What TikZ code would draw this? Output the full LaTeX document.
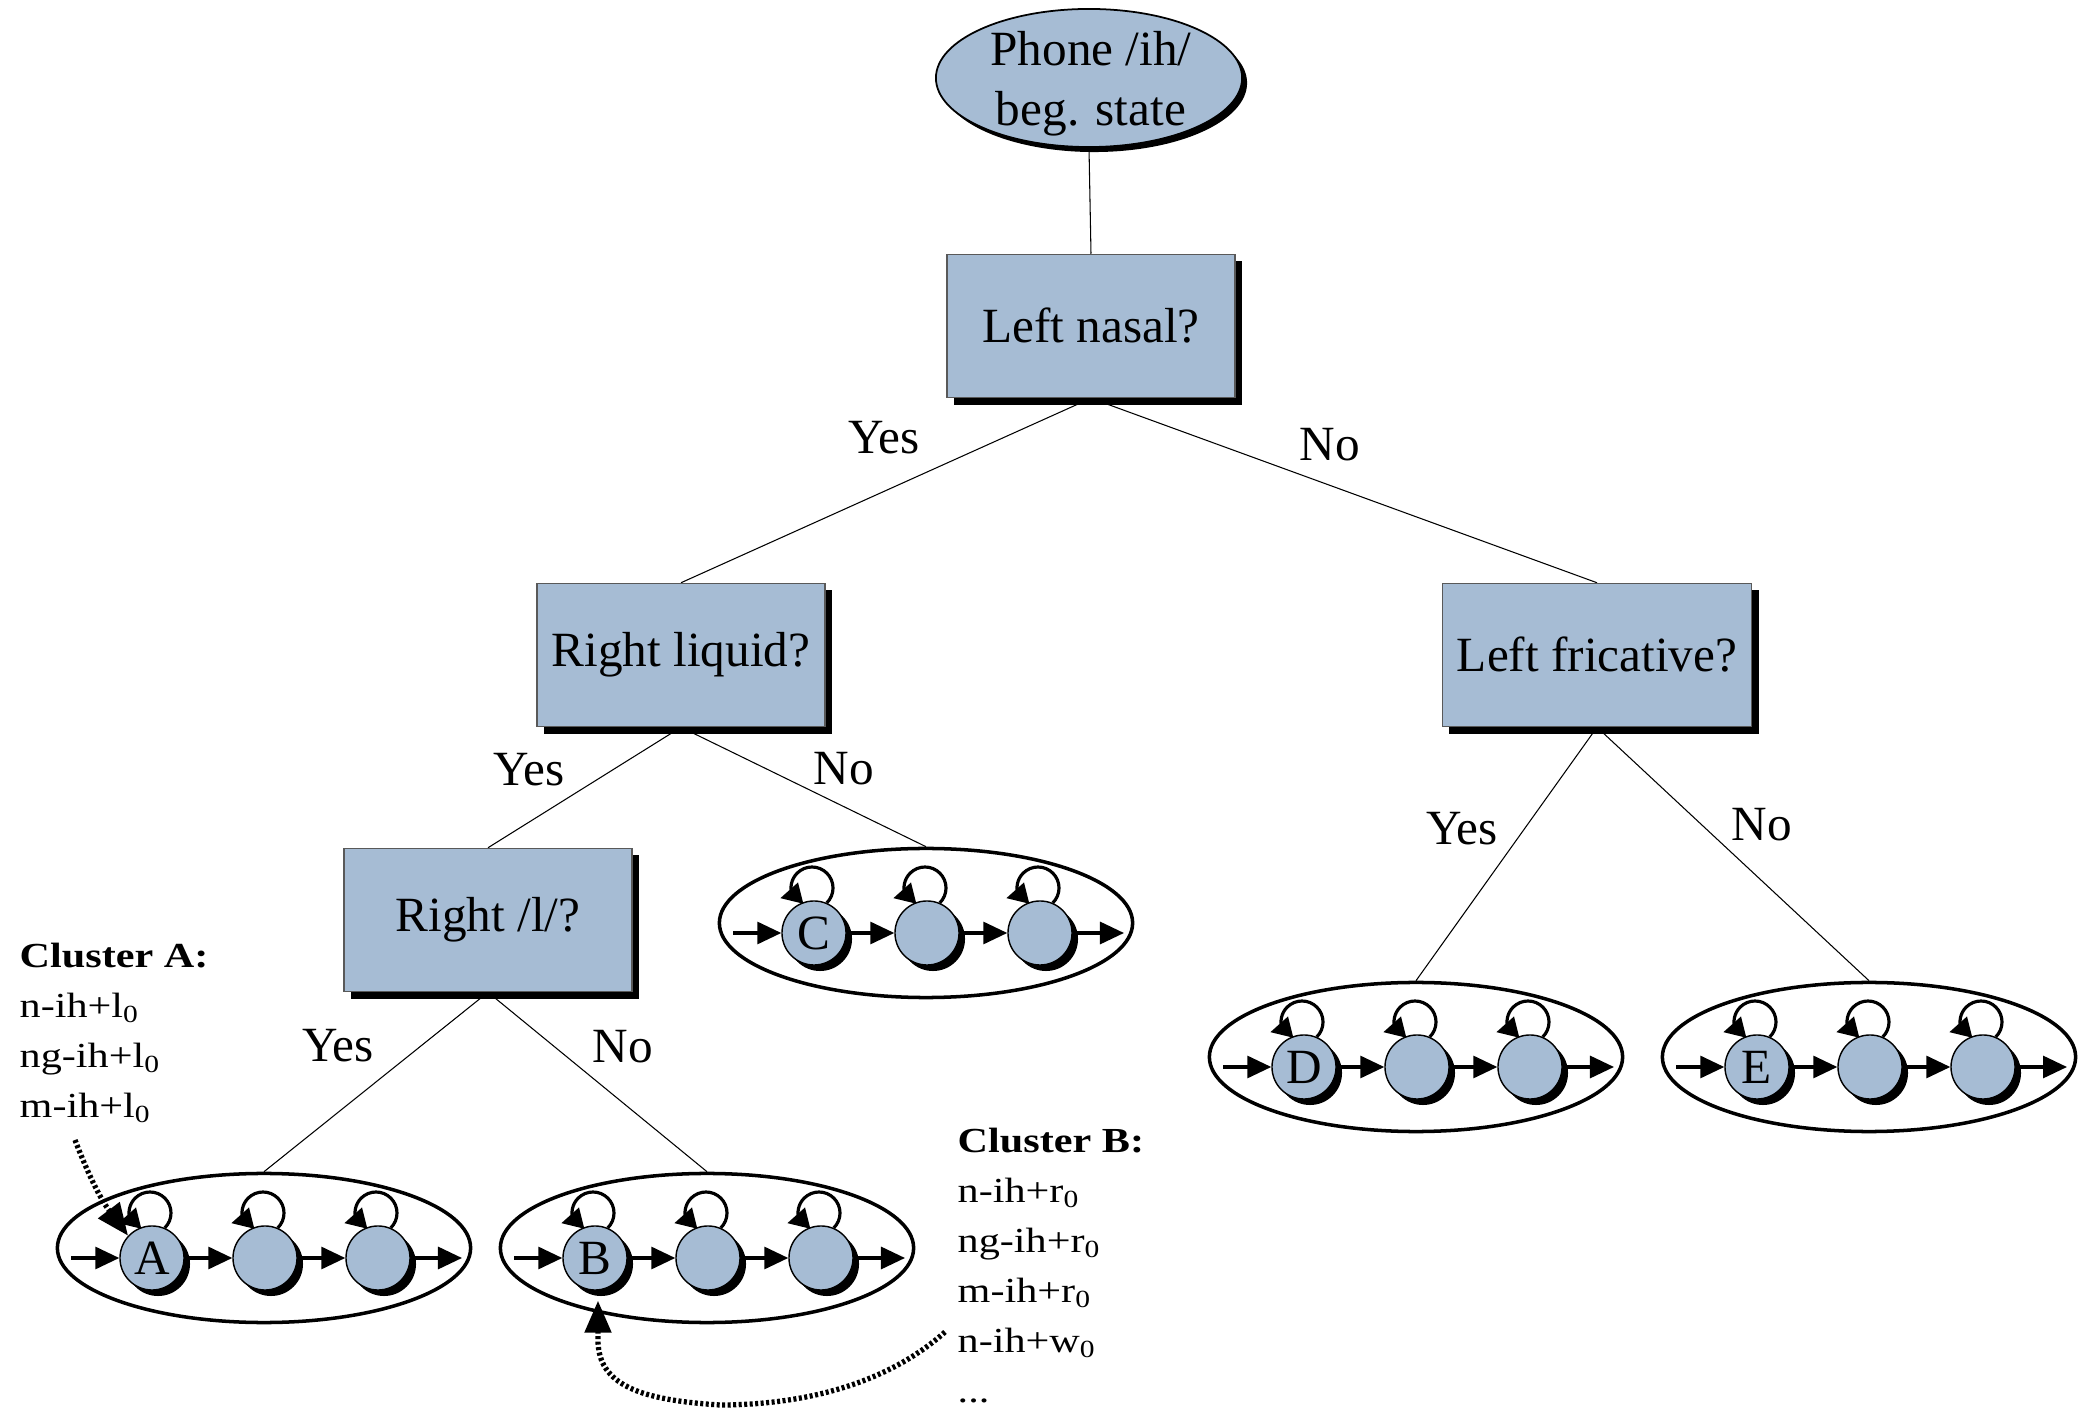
\documentclass[tikz,border=0pt]{standalone}
\usepackage{fontspec}
\setmainfont{Liberation Serif}
\newfontfamily\clusterfont[FakeStretch=1.2]{Liberation Serif}
\usetikzlibrary{shapes.geometric,shadows,arrows.meta,calc,backgrounds}
\definecolor{boxblue}{RGB}{166,188,212}
\tikzset{
  bigtext/.style={font=\fontsize{14}{16}\selectfont},
  qbox/.style={rectangle, fill=boxblue, draw=black!65, line width=0.4pt, minimum width=2.88cm, minimum height=1.43cm, inner sep=0pt, bigtext, drop shadow={shadow xshift=0.07cm, shadow yshift=-0.07cm, opacity=1, fill=black}},
  rootell/.style={ellipse, fill=boxblue, draw=black, line width=0.5pt, minimum width=3.06cm, minimum height=1.38cm, inner sep=0pt, drop shadow={shadow xshift=0.05cm, shadow yshift=-0.05cm, opacity=1, fill=black}},
  hmmell/.style={ellipse, draw=black, line width=1pt, minimum width=4.13cm, minimum height=1.49cm, inner sep=0pt},
  hstate/.style={circle, fill=boxblue, draw=black, line width=0.4pt, minimum size=0.64cm, inner sep=0pt, bigtext, drop shadow={shadow xshift=0.06cm, shadow yshift=-0.06cm, opacity=1, fill=black}},
  harrow/.style={line width=0.9pt, -{Triangle[length=0.24cm,width=0.22cm]}},
  hloop/.style={line width=0.9pt, -{Triangle[length=0.21cm,width=0.21cm]}},
  treeedge/.style={line width=0.3pt},
  yn/.style={bigtext, inner sep=0pt},
  cluster/.style={align=left, inner sep=0pt, anchor=north west, font=\clusterfont\fontsize{10}{14.23}\selectfont},
  dotarrow/.style={line width=1.5pt, dash pattern=on 0.03cm off 0.025cm, -{Triangle[length=0.32cm,width=0.26cm]}},
}
\newcommand\hmmgroup[4]{%
  \node[hmmell] (#1) at (#2,#3) {};
  \node[hstate] (#1s1) at ($(#1)+(-112,-10)$) {#4};
  \node[hstate] (#1s2) at ($(#1)+(1,-10)$) {};
  \node[hstate] (#1s3) at ($(#1)+(114,-10)$) {};
  \coordinate (#1in) at ($(#1)+(-193,-10)$);
  \coordinate (#1out) at ($(#1)+(198,-10)$);
  \draw[harrow] (#1in) -- (#1s1);
  \draw[harrow] (#1s1) -- (#1s2);
  \draw[harrow] (#1s2) -- (#1s3);
  \draw[harrow] (#1s3) -- (#1out);
  \foreach \s in {s1,s2,s3}
    \draw[hloop] (#1\s.center) ++(12.85,30.15) arc[start angle=-45,end angle=200,radius=21] -- ++(-12,-3);
}
\begin{document}
\begin{tikzpicture}[x=0.01cm,y=0.01cm]
\useasboundingbox (0,0) rectangle (2096,-1428);
\node[rootell] (root) at (1089,-78) {};
\node[bigtext, align=center, inner sep=0pt] (rootlbl) at (1091,-84) {Phone /ih/\\[1pt]beg. state};
\node[qbox] (nasal) at (1091,-326) {Left nasal?};
\node[qbox] (liquid) at (681,-655) {Right liquid?};
\node[qbox, minimum width=3.09cm] (fric) at (1597,-655) {Left fricative?};
\node[qbox] (rl) at (488,-920) {Right /l/?};
\hmmgroup{C}{926}{-923}{C}
\hmmgroup{D}{1416}{-1057}{D}
\hmmgroup{E}{1869}{-1057}{E}
\hmmgroup{A}{264}{-1248}{A}
\hmmgroup{B}{707}{-1248}{B}
\begin{pgfonlayer}{background}
\draw[treeedge] (root.south) -- (nasal.north);
\draw[treeedge] (nasal.south) -- (liquid.north);
\draw[treeedge] (nasal.south) -- (fric.north);
\draw[treeedge] (liquid.south) -- (rl.north);
\draw[treeedge] (liquid.south) -- (C.north);
\draw[treeedge] (fric.south) -- (D.north);
\draw[treeedge] (fric.south) -- (E.north);
\draw[treeedge] (rl.south) -- (A.north);
\draw[treeedge] (rl.south) -- (B.north);
\end{pgfonlayer}
\node[yn] (y1) at (884,-438) {Yes};
\node[yn] (n1) at (1330,-445) {No};
\node[yn] (y2) at (529,-770) {Yes};
\node[yn] (n2) at (844,-769) {No};
\node[yn] (y3) at (1462,-829) {Yes};
\node[yn] (n3) at (1762,-825) {No};
\node[yn] (y4) at (338,-1046) {Yes};
\node[yn] (n4) at (623,-1047) {No};
\node[cluster] (clA) at (19,-942) {\textbf{Cluster A:}\\n-ih+l\textsubscript{0}\\ng-ih+l\textsubscript{0}\\m-ih+l\textsubscript{0}};
\node[cluster] (clB) at (957,-1127) {\textbf{Cluster B:}\\n-ih+r\textsubscript{0}\\ng-ih+r\textsubscript{0}\\m-ih+r\textsubscript{0}\\n-ih+w\textsubscript{0}\\...};
\coordinate (dA) at (75,-1140);
\draw[dotarrow] (dA) to[bend right=8] (As1.137);
\coordinate (dB) at (945,-1332);
\draw[dotarrow] (dB) .. controls (880,-1390) and (790,-1405) .. (720,-1405) .. controls (640,-1400) and (598,-1385) .. (598,-1340) -- ($(Bs1.south)+(3,-10)$);
\end{tikzpicture}
\end{document}
